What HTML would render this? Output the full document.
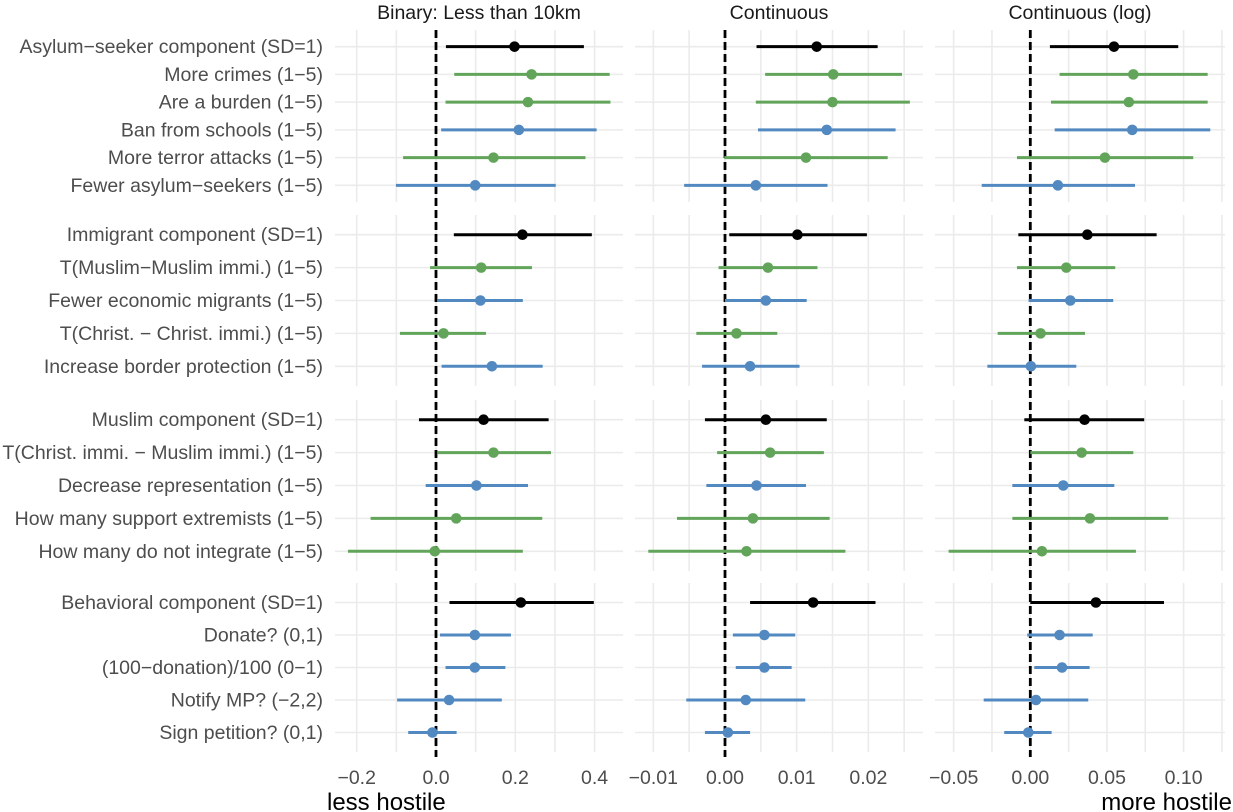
<!DOCTYPE html>
<html><head><meta charset="utf-8"><style>
html,body{margin:0;padding:0;background:#fff;}
svg{display:block;font-family:"Liberation Sans",Arial,sans-serif;}
</style></head><body>
<svg id="chart" width="1233" height="812" viewBox="0 0 1233 812" xmlns="http://www.w3.org/2000/svg">
<g id="grid"></g>
<g id="marks"></g>
<g id="labels"></g>
<text x="327" y="810" font-size="24" fill="#000">less hostile</text>
<text x="1232" y="810" font-size="24" fill="#000" text-anchor="end">more hostile</text>
</svg>
<script>
const facetTitles = ["Binary: Less than 10km", "Continuous", "Continuous (log)"];
const groupLabels = [
 ["Asylum\u2212seeker component (SD=1)","More crimes (1\u22125)","Are a burden (1\u22125)","Ban from schools (1\u22125)","More terror attacks (1\u22125)","Fewer asylum\u2212seekers (1\u22125)"],
 ["Immigrant component (SD=1)","T(Muslim\u2212Muslim immi.) (1\u22125)","Fewer economic migrants (1\u22125)","T(Christ. \u2212 Christ. immi.) (1\u22125)","Increase border protection (1\u22125)"],
 ["Muslim component (SD=1)","T(Christ. immi. \u2212 Muslim immi.) (1\u22125)","Decrease representation (1\u22125)","How many support extremists (1\u22125)","How many do not integrate (1\u22125)"],
 ["Behavioral component (SD=1)","Donate? (0,1)","(100\u2212donation)/100 (0\u22121)","Notify MP? (\u22122,2)","Sign petition? (0,1)"]
];
const rowColors = [
 ["k","g","g","b","g","b"],
 ["k","g","b","g","b"],
 ["k","g","b","g","g"],
 ["k","b","b","b","b"]
];
// Panel 1 (binary)
const p1Est = [[0.198,0.241,0.232,0.209,0.145,0.099],[0.218,0.114,0.112,0.019,0.141],[0.120,0.145,0.102,0.051,-0.003],[0.214,0.098,0.098,0.033,-0.009]];
const p1Lo  = [[0.025,0.046,0.024,0.013,-0.083,-0.101],[0.045,-0.015,0.003,-0.091,0.014],[-0.043,0.003,-0.026,-0.165,-0.222],[0.034,0.010,0.024,-0.098,-0.070]];
const p1Hi  = [[0.373,0.438,0.440,0.405,0.377,0.302],[0.393,0.242,0.219,0.126,0.269],[0.284,0.290,0.232,0.268,0.219],[0.398,0.189,0.175,0.166,0.052]];
// Panel 2 (continuous)
const p2Est = [[0.0128,0.0151,0.0150,0.0142,0.0113,0.0043],[0.0101,0.0060,0.0057,0.0016,0.0035],[0.0057,0.0063,0.0044,0.0039,0.0030],[0.0123,0.0055,0.0055,0.0029,0.0004]];
const p2Lo  = [[0.0044,0.0056,0.0043,0.0046,-0.0001,-0.0057],[0.0006,-0.0009,0.0000,-0.0040,-0.0032],[-0.0028,-0.0011,-0.0026,-0.0067,-0.0107],[0.0035,0.0011,0.0015,-0.0054,-0.0028]];
const p2Hi  = [[0.0213,0.0247,0.0258,0.0238,0.0227,0.0143],[0.0198,0.0129,0.0114,0.0073,0.0104],[0.0142,0.0138,0.0113,0.0146,0.0168],[0.0210,0.0098,0.0093,0.0112,0.0035]];
// Panel 3 (continuous log)
const p3Est = [[0.0546,0.0672,0.0643,0.0665,0.0487,0.0180],[0.0372,0.0235,0.0261,0.0067,0.0004],[0.0354,0.0335,0.0215,0.0389,0.0076],[0.0428,0.0191,0.0207,0.0037,-0.0013]];
const p3Lo  = [[0.0128,0.0191,0.0135,0.0159,-0.0087,-0.0317],[-0.0078,-0.0087,-0.0011,-0.0213,-0.0280],[-0.0039,0.0000,-0.0117,-0.0117,-0.0533],[0.0000,-0.0020,0.0026,-0.0304,-0.0170]];
const p3Hi  = [[0.0965,0.1157,0.1157,0.1174,0.1063,0.0683],[0.0824,0.0554,0.0541,0.0357,0.0300],[0.0743,0.0672,0.0548,0.0900,0.0689],[0.0872,0.0407,0.0387,0.0378,0.0139]];
const p1Ticks = ["\u22120.2","0.0","0.2","0.4"];
const p1TickVals = [-0.2,0,0.2,0.4];
const p2Ticks = ["\u22120.01","0.00","0.01","0.02"];
const p2TickVals = [-0.01,0,0.01,0.02];
const p3Ticks = ["\u22120.05","0.00","0.05","0.10"];
const p3TickVals = [-0.05,0,0.05,0.10];

const NS="http://www.w3.org/2000/svg";
function mk(tag, attrs, parent){const e=document.createElementNS(NS,tag);for(const k in attrs)e.setAttribute(k,attrs[k]);parent.appendChild(e);return e;}
const panels=[
 {x0:335,x1:623,zero:436,k:396.5,grid:[-0.2,-0.1,0,0.1,0.2,0.3,0.4],est:p1Est,lo:p1Lo,hi:p1Hi,ticks:p1Ticks,tv:p1TickVals},
 {x0:635,x1:923,zero:725,k:7167,grid:[-0.01,-0.005,0,0.005,0.01,0.015,0.02,0.025],est:p2Est,lo:p2Lo,hi:p2Hi,ticks:p2Ticks,tv:p2TickVals},
 {x0:935,x1:1225,zero:1030.3,k:1533,grid:[-0.05,-0.025,0,0.025,0.05,0.075,0.1,0.125],est:p3Est,lo:p3Lo,hi:p3Hi,ticks:p3Ticks,tv:p3TickVals}
];
const groups=[[30,202],[215,386],[400,571],[583,752]];
const colMap={k:"#000000",g:"#62a55a",b:"#5289c1"};
function xs(p,v){return p.zero+v*p.k;}
function ys(g,i){const n=groupLabels[g].length;const[t,b]=groups[g];const step=(b-t)/(n-1+1.2);return t+step*(0.6+i);}
const grid=document.getElementById('grid'),marks=document.getElementById('marks'),labels=document.getElementById('labels');

panels.forEach((p,pi)=>{
  const t=mk('text',{x:(p.x0+p.x1)/2,y:19,'font-size':19.5,fill:'#1a1a1a','text-anchor':'middle'},labels);
  
  
  t.textContent=facetTitles[pi];
  groups.forEach((g,gi)=>{
    p.grid.forEach(v=>{
      const l=mk('line',{x1:xs(p,v),x2:xs(p,v),y1:g[0],y2:g[1],stroke:'#ebebeb','stroke-width':1.6},grid);
      
      
    });
    groupLabels[gi].forEach((lab,i)=>{
      const y=ys(gi,i);
      const l=mk('line',{x1:p.x0,x2:p.x1,y1:y,y2:y,stroke:'#ebebeb','stroke-width':1.6},grid);
      
      
    });
  });
  p.tv.forEach((v,i)=>{
    const tx=mk('text',{x:xs(p,v),y:784,'font-size':19.5,fill:'#4d4d4d','text-anchor':'middle'},labels);
    
    
    tx.textContent=p.ticks[i];
  });
  const z=mk('line',{x1:xs(p,0),x2:xs(p,0),y1:30,y2:757,stroke:'#000','stroke-width':2.8,'stroke-dasharray':'8 4'},marks);
  
  
  groups.forEach((g,gi)=>{
    groupLabels[gi].forEach((lab,i)=>{
      const y=ys(gi,i);const c=colMap[rowColors[gi][i]];
      const ci=mk('line',{x1:xs(p,p.lo[gi][i]),x2:xs(p,p.hi[gi][i]),y1:y,y2:y,stroke:c,'stroke-width':3},marks);
      
      
      const d=mk('circle',{cx:xs(p,p.est[gi][i]),cy:y,r:5.3,fill:c},marks);
      
      
    });
  });
});
groupLabels.forEach((gl,gi)=>{
  gl.forEach((lab,i)=>{
    const t=mk('text',{x:323,y:ys(gi,i)+6.5,'font-size':19.5,fill:'#4d4d4d','text-anchor':'end'},labels);
    
    
    t.textContent=lab;
  });
});
</script>
</body></html>
